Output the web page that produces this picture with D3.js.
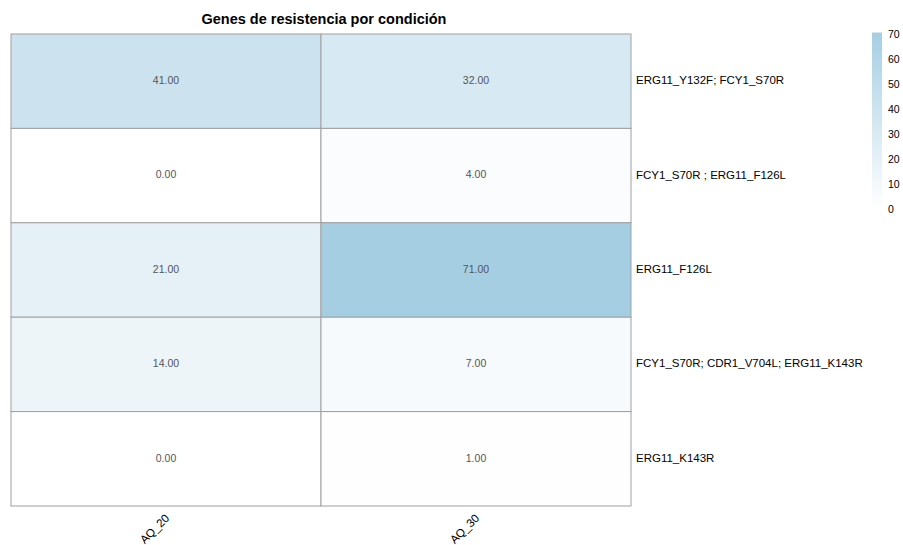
<!DOCTYPE html>
<html>
<head>
<meta charset="utf-8">
<script src="https://cdn.jsdelivr.net/npm/d3@7"></script>
<style>
  body { margin: 0; background: #fff; }
  text { font-family: "Liberation Sans", Arial, sans-serif; }
</style>
</head>
<body>
<div id="chart"></div>
<script>
/* data */
var conditions = ["AQ_20", "AQ_30"];
var genes = [
  "ERG11_Y132F; FCY1_S70R",
  "FCY1_S70R ; ERG11_F126L",
  "ERG11_F126L",
  "FCY1_S70R; CDR1_V704L; ERG11_K143R",
  "ERG11_K143R"
];
var aq20 = [41, 0, 21, 14, 0];
var aq30 = [32, 4, 71, 7, 1];
var legendTicks = [0, 10, 20, 30, 40, 50, 60, 70];

/* size and style */
var width = 903, height = 545;
var gridLeft = 11, gridRight = 631, gridTop = 34, gridBottom = 506;
var lowColor = "#ffffff", highColor = "#a6cee3";

var cells = [];
genes.forEach(function(g, i) {
  cells.push({ gene: g, cond: conditions[0], value: aq20[i] });
  cells.push({ gene: g, cond: conditions[1], value: aq30[i] });
});
var maxVal = d3.max(cells, function(d) { return d.value; });

var svg = d3.select("#chart").append("svg")
  .attr("width", width)
  .attr("height", height);

var x = d3.scaleBand().domain(conditions).range([gridLeft, gridRight]);
var y = d3.scaleBand().domain(genes).range([gridTop, gridBottom]);
var color = d3.scaleLinear().domain([0, maxVal]).range([lowColor, highColor]);

/* title */
svg.append("text")
  .attr("x", (gridLeft + gridRight) / 2 + 3)
  .attr("y", 24)
  .attr("text-anchor", "middle")
  .style("font-size", "14.5px")
  .style("font-weight", "bold")
  .text("Genes de resistencia por condición");

/* cells */
svg.selectAll("rect.cell").data(cells).enter().append("rect")
  .attr("class", "cell")
  .attr("x", function(d) { return x(d.cond); })
  .attr("y", function(d) { return y(d.gene); })
  .attr("width", x.bandwidth())
  .attr("height", y.bandwidth())
  .attr("fill", function(d) { return color(d.value); })
  .attr("stroke", "#a0a0a0")
  .attr("stroke-width", 1);

svg.selectAll("text.val").data(cells).enter().append("text")
  .attr("class", "val")
  .attr("x", function(d) { return x(d.cond) + x.bandwidth() / 2; })
  .attr("y", function(d) { return y(d.gene) + y.bandwidth() / 2; })
  .attr("text-anchor", "middle")
  .attr("dominant-baseline", "middle")
  .style("font-size", "10.5px")
  .style("fill", "#555555")
  .text(function(d) { return d.value.toFixed(2); });

/* row labels */
svg.selectAll("text.row").data(genes).enter().append("text")
  .attr("class", "row")
  .attr("x", gridRight + 5)
  .attr("y", function(d) { return y(d) + y.bandwidth() / 2; })
  .attr("dominant-baseline", "middle")
  .style("font-size", "11.5px")
  .text(function(d) { return d; });

/* column labels, rotated */
svg.selectAll("text.col").data(conditions).enter().append("text")
  .attr("class", "col")
  .attr("text-anchor", "end")
  .attr("transform", function(d) {
    return "translate(" + (x(d) + x.bandwidth() / 2 + 4) + "," + (gridBottom + 13) + ") rotate(-45)";
  })
  .style("font-size", "11.5px")
  .text(function(d) { return d; });

/* legend */
var legTop = 32.5, legBottom = 210, legX = 872, legW = 10;
var ly = d3.scaleLinear().domain([0, maxVal]).range([legBottom, legTop]);
var defs = svg.append("defs");
var grad = defs.append("linearGradient")
  .attr("id", "leg")
  .attr("x1", 0).attr("y1", 1).attr("x2", 0).attr("y2", 0);
grad.append("stop").attr("offset", 0).attr("stop-color", lowColor);
grad.append("stop").attr("offset", 1).attr("stop-color", highColor);

svg.append("rect")
  .attr("x", legX)
  .attr("y", ly(maxVal))
  .attr("width", legW)
  .attr("height", ly(0) - ly(maxVal))
  .attr("fill", "url(#leg)");

svg.selectAll("text.leg").data(legendTicks).enter().append("text")
  .attr("class", "leg")
  .attr("x", legX + legW + 6)
  .attr("y", function(d) { return ly(d); })
  .attr("dominant-baseline", "middle")
  .style("font-size", "10.5px")
  .text(function(d) { return d; });
</script>
</body>
</html>
